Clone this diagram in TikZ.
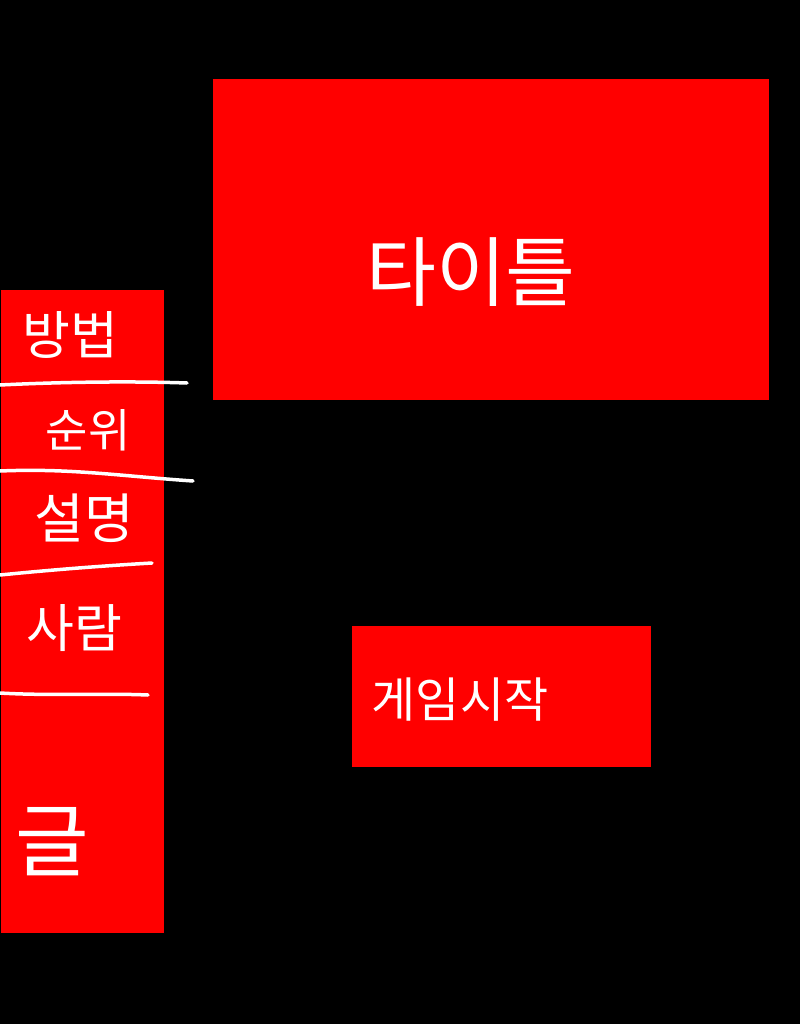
\documentclass[tikz,border=0pt]{standalone}
\usepackage{fontspec}
\newfontfamily\kr{Noto Sans CJK KR}
\begin{document}
\begin{tikzpicture}[x=1pt,y=-1pt,
  panel/.style={fill=red,draw=none},
  label/.style={text=white,font=\kr,inner sep=0pt,anchor=center},
  divider/.style={draw=white,line width=3.5pt,line cap=round}]
\fill[black] (0,0) rectangle (800,1024);
\useasboundingbox (0,0) rectangle (800,1024);
% panels
\path[panel] (213,79) rectangle (769,400);
\path[panel] (352,626) rectangle (651,767);
\path[panel] (1,290) rectangle (164,933);
% labels
\node[label,font=\kr\fontsize{76}{84}\selectfont] (title) at (471,272) {타이틀};
\node[label,font=\kr\fontsize{48}{54}\selectfont] (start) at (460,700) {게임시작};
\node[label,font=\kr\fontsize{52}{58}\selectfont] (m1) at (70,335) {방법};
\node[label,font=\kr\fontsize{46}{52}\selectfont] (m2) at (88,430) {순위};
\node[label,font=\kr\fontsize{54}{60}\selectfont] (m3) at (84,518) {설명};
\node[label,font=\kr\fontsize{52}{58}\selectfont] (m4) at (74,628) {사람};
\node[label,font=\kr\fontsize{80}{88}\selectfont] (m5) at (52,842) {글};
% dividers
\draw[divider] (0,385) .. controls (60,382) and (130,381) .. (187,383);
\draw[divider] (0,471) .. controls (70,468) and (120,476) .. (193,481);
\draw[divider] (0,575) .. controls (50,570) and (100,566) .. (152,563);
\draw[divider] (0,693) .. controls (50,696) and (100,693) .. (148,695);
\end{tikzpicture}
\end{document}
